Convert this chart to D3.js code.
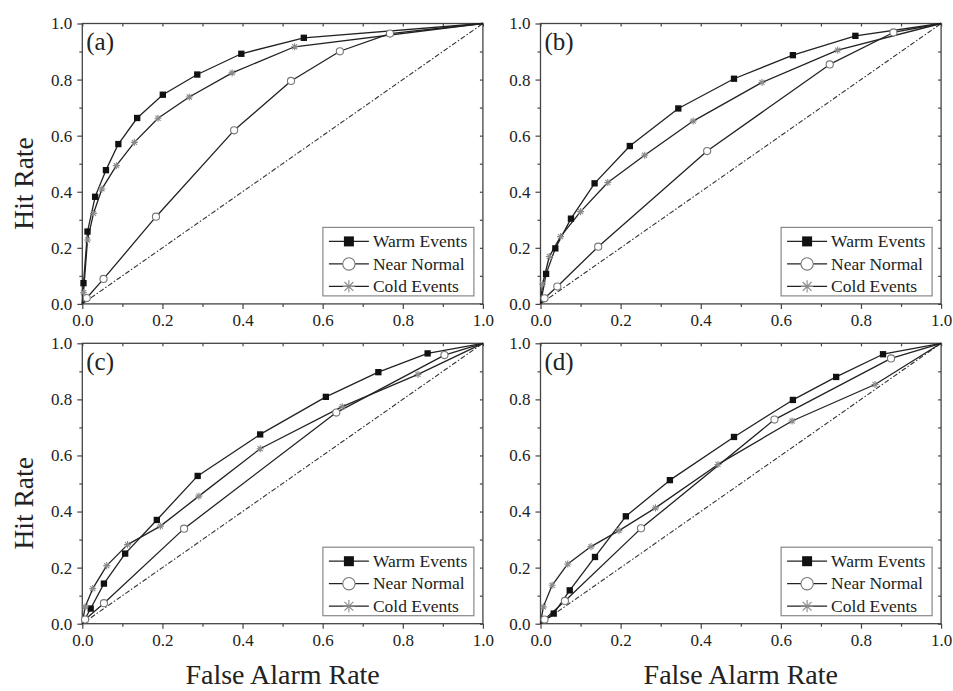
<!DOCTYPE html>
<html>
  <head>
    <title>ROC curves</title>
    <script src="https://d3js.org/d3.v7.min.js"></script>
    <style>
      body { margin: 0; background: #fff; }
    </style>
  </head>

  <body>
    <svg width="953" height="691"></svg>

    <script type="text/javascript">
      // [false alarm rate, hit rate] pairs
      var warmA = [[0,0],[0.003,0.074],[0.013,0.258],[0.032,0.382],[0.059,0.477],[0.09,0.57],[0.137,0.663],[0.201,0.746],[0.287,0.818],[0.397,0.892],[0.553,0.949],[1,1]];
      var nearA = [[0,0],[0.011,0.021],[0.053,0.089],[0.184,0.311],[0.379,0.619],[0.521,0.795],[0.643,0.901],[0.768,0.964],[1,1]];
      var coldA = [[0,0],[0.003,0.04],[0.013,0.228],[0.028,0.323],[0.049,0.41],[0.085,0.493],[0.13,0.576],[0.189,0.662],[0.267,0.738],[0.374,0.824],[0.53,0.917],[1,1]];

      var warmB = [[0,0],[0.014,0.107],[0.037,0.198],[0.076,0.304],[0.135,0.43],[0.223,0.563],[0.344,0.697],[0.483,0.803],[0.63,0.887],[0.786,0.956],[1,1]];
      var nearB = [[0,0],[0.01,0.02],[0.042,0.062],[0.144,0.204],[0.416,0.545],[0.722,0.854],[0.881,0.968],[1,1]];
      var coldB = [[0,0],[0.005,0.07],[0.022,0.169],[0.05,0.24],[0.1,0.329],[0.168,0.433],[0.26,0.53],[0.381,0.652],[0.553,0.79],[0.742,0.905],[1,1]];

      var warmC = [[0,0],[0.021,0.054],[0.054,0.143],[0.107,0.25],[0.186,0.37],[0.288,0.527],[0.444,0.675],[0.608,0.809],[0.739,0.897],[0.862,0.964],[1,1]];
      var nearC = [[0,0],[0.007,0.015],[0.054,0.073],[0.254,0.339],[0.634,0.753],[0.904,0.958],[1,1]];
      var coldC = [[0,0],[0.007,0.06],[0.026,0.125],[0.061,0.207],[0.113,0.282],[0.195,0.348],[0.291,0.455],[0.444,0.624],[0.649,0.774],[0.838,0.889],[1,1]];

      var warmD = [[0,0],[0.033,0.036],[0.073,0.119],[0.136,0.238],[0.213,0.383],[0.323,0.512],[0.483,0.666],[0.63,0.798],[0.738,0.88],[0.855,0.961],[1,1]];
      var nearD = [[0,0],[0.01,0.015],[0.061,0.081],[0.251,0.34],[0.584,0.728],[0.875,0.946],[1,1]];
      var coldD = [[0,0],[0.007,0.06],[0.029,0.137],[0.068,0.213],[0.126,0.275],[0.196,0.332],[0.287,0.413],[0.443,0.568],[0.628,0.723],[0.835,0.853],[1,1]];

      var panelLabels = ["(a)", "(b)", "(c)", "(d)"];
      var seriesNames = ["Warm Events", "Near Normal", "Cold Events"];
      var majorTicks = [0, 0.2, 0.4, 0.6, 0.8, 1.0];
      var minorTicks = [0.1, 0.3, 0.5, 0.7, 0.9];
      var diagonal = [[0, 0], [1, 1]];

      var panelData = [
        [warmA, nearA, coldA],
        [warmB, nearB, coldB],
        [warmC, nearC, coldC],
        [warmD, nearD, coldD]
      ];

      var serif = "'Liberation Serif', 'Times New Roman', serif";
      var svg = d3.select("svg");
      var colX = [82.3, 540.5];
      var rowY = [23.5, 343.3];
      var pw = 400.6, ph = 280.4;

      // asterisk marker: vertical, horizontal and two diagonals
      var asterisk = {
        draw: function (ctx, size) {
          var r = Math.sqrt(size) / 2;
          var k = r * 0.72;
          ctx.moveTo(0, -r); ctx.lineTo(0, r);
          ctx.moveTo(-r, 0); ctx.lineTo(r, 0);
          ctx.moveTo(-k, -k); ctx.lineTo(k, k);
          ctx.moveTo(-k, k); ctx.lineTo(k, -k);
        }
      };

      function drawMarker(sel, type, size) {
        if (type == 0) {
          sel.attr("d", d3.symbol().type(d3.symbolSquare).size(size))
            .attr("fill", "#111").attr("stroke", "none");
        } else if (type == 1) {
          sel.attr("d", d3.symbol().type(d3.symbolCircle).size(size))
            .attr("fill", "#fff").attr("stroke", "#777").attr("stroke-width", 1.1);
        } else {
          sel.attr("d", d3.symbol().type(asterisk).size(size))
            .attr("fill", "none").attr("stroke", "#8a8a8a").attr("stroke-width", 1.1);
        }
      }

      function styleAxis(g) {
        g.attr("font-family", serif).attr("font-size", 17);
        g.select(".domain").remove();
        g.selectAll("line").attr("stroke", "#444").attr("stroke-width", 1.2);
        g.selectAll("text").attr("fill", "#222");
      }

      panelData.forEach(function (series, p) {
        var left = colX[p % 2];
        var top = rowY[Math.floor(p / 2)];

        var x = d3.scaleLinear().domain([0, 1]).range([left, left + pw]);
        var y = d3.scaleLinear().domain([0, 1]).range([top + ph, top]);
        var fmt = d3.format(".1f");

        var g = svg.append("g");

        // axes: left/bottom ticks out, top/right ticks in
        g.append("g").attr("transform", "translate(" + left + ",0)")
          .call(d3.axisLeft(y).tickValues(majorTicks).tickSize(5).tickPadding(5).tickFormat(fmt))
          .call(styleAxis);
        g.append("g").attr("transform", "translate(" + left + ",0)")
          .call(d3.axisLeft(y).tickValues(minorTicks).tickSize(3).tickFormat(""))
          .call(styleAxis);
        g.append("g").attr("transform", "translate(0," + (top + ph) + ")")
          .call(d3.axisBottom(x).tickValues(majorTicks).tickSize(5).tickPadding(5).tickFormat(fmt))
          .call(styleAxis);
        g.append("g").attr("transform", "translate(0," + (top + ph) + ")")
          .call(d3.axisBottom(x).tickValues(minorTicks).tickSize(3).tickFormat(""))
          .call(styleAxis);
        g.append("g").attr("transform", "translate(0," + top + ")")
          .call(d3.axisTop(x).tickValues(majorTicks.concat(minorTicks)).tickSize(-3).tickFormat(""))
          .call(styleAxis);
        g.append("g").attr("transform", "translate(" + (left + pw) + ",0)")
          .call(d3.axisRight(y).tickValues(majorTicks.concat(minorTicks)).tickSize(-3).tickFormat(""))
          .call(styleAxis);

        // frame
        g.append("rect")
          .attr("x", left).attr("y", top)
          .attr("width", pw).attr("height", ph)
          .attr("fill", "none").attr("stroke", "#444").attr("stroke-width", 1.3);

        var line = d3.line()
          .x(function (d) { return x(d[0]); })
          .y(function (d) { return y(d[1]); });

        // no-skill diagonal
        g.append("path")
          .attr("d", line(diagonal))
          .attr("fill", "none").attr("stroke", "#333").attr("stroke-width", 1.1)
          .attr("stroke-dasharray", "5,2,1.5,2");

        series.forEach(function (s, i) {
          g.append("path")
            .attr("d", line(s))
            .attr("fill", "none").attr("stroke", "#222").attr("stroke-width", 1.3)
            .attr("stroke-linejoin", "round");
        });
        series.forEach(function (s, i) {
          var pts = s.filter(function (d) { return d[0] > 0 && d[0] < 1; });
          g.selectAll(null).data(pts).enter().append("path")
            .attr("transform", function (d) { return "translate(" + x(d[0]) + "," + y(d[1]) + ")"; })
            .call(drawMarker, i, i == 0 ? 40 : (i == 1 ? 40 : 50));
        });

        // panel label
        g.append("text")
          .attr("x", left + 4).attr("y", top + 26.5)
          .style("font-size", "25px")
          .text(panelLabels[p]);

        // legend
        var lw = 151, lh = 68.5;
        var lx = left + pw - 9 - lw;
        var ly = top + ph - 8 - lh;
        g.append("rect")
          .attr("x", lx).attr("y", ly).attr("width", lw).attr("height", lh)
          .attr("fill", "#fff").attr("stroke", "#888").attr("stroke-width", 1.2);
        seriesNames.forEach(function (name, i) {
          var ry = ly + 14 + i * 22.5;
          g.append("line")
            .attr("x1", lx + 6).attr("x2", lx + 46)
            .attr("y1", ry).attr("y2", ry)
            .attr("stroke", "#222").attr("stroke-width", 1.3);
          g.append("path")
            .attr("transform", "translate(" + (lx + 26) + "," + ry + ")")
            .call(drawMarker, i, i == 0 ? 100 : (i == 1 ? 120 : 150));
          g.append("text")
            .attr("x", lx + 50).attr("y", ry)
            .attr("dy", "0.33em")
            .style("font-size", "17.5px")
            .text(name);
        });

        // axis titles
        if (p % 2 == 0) {
          g.append("text")
            .attr("transform", "translate(33," + (top + 160) + ") rotate(-90)")
            .attr("text-anchor", "middle")
            .style("font-size", "27.5px")
            .text("Hit Rate");
        }
        if (p >= 2) {
          g.append("text")
            .attr("x", left + pw / 2).attr("y", 684)
            .attr("text-anchor", "middle")
            .style("font-size", "28px")
            .text("False Alarm Rate");
        }
      });

      svg.selectAll("text").style("font-family", serif).attr("fill", "#222");
    </script>
  </body>
</html>
